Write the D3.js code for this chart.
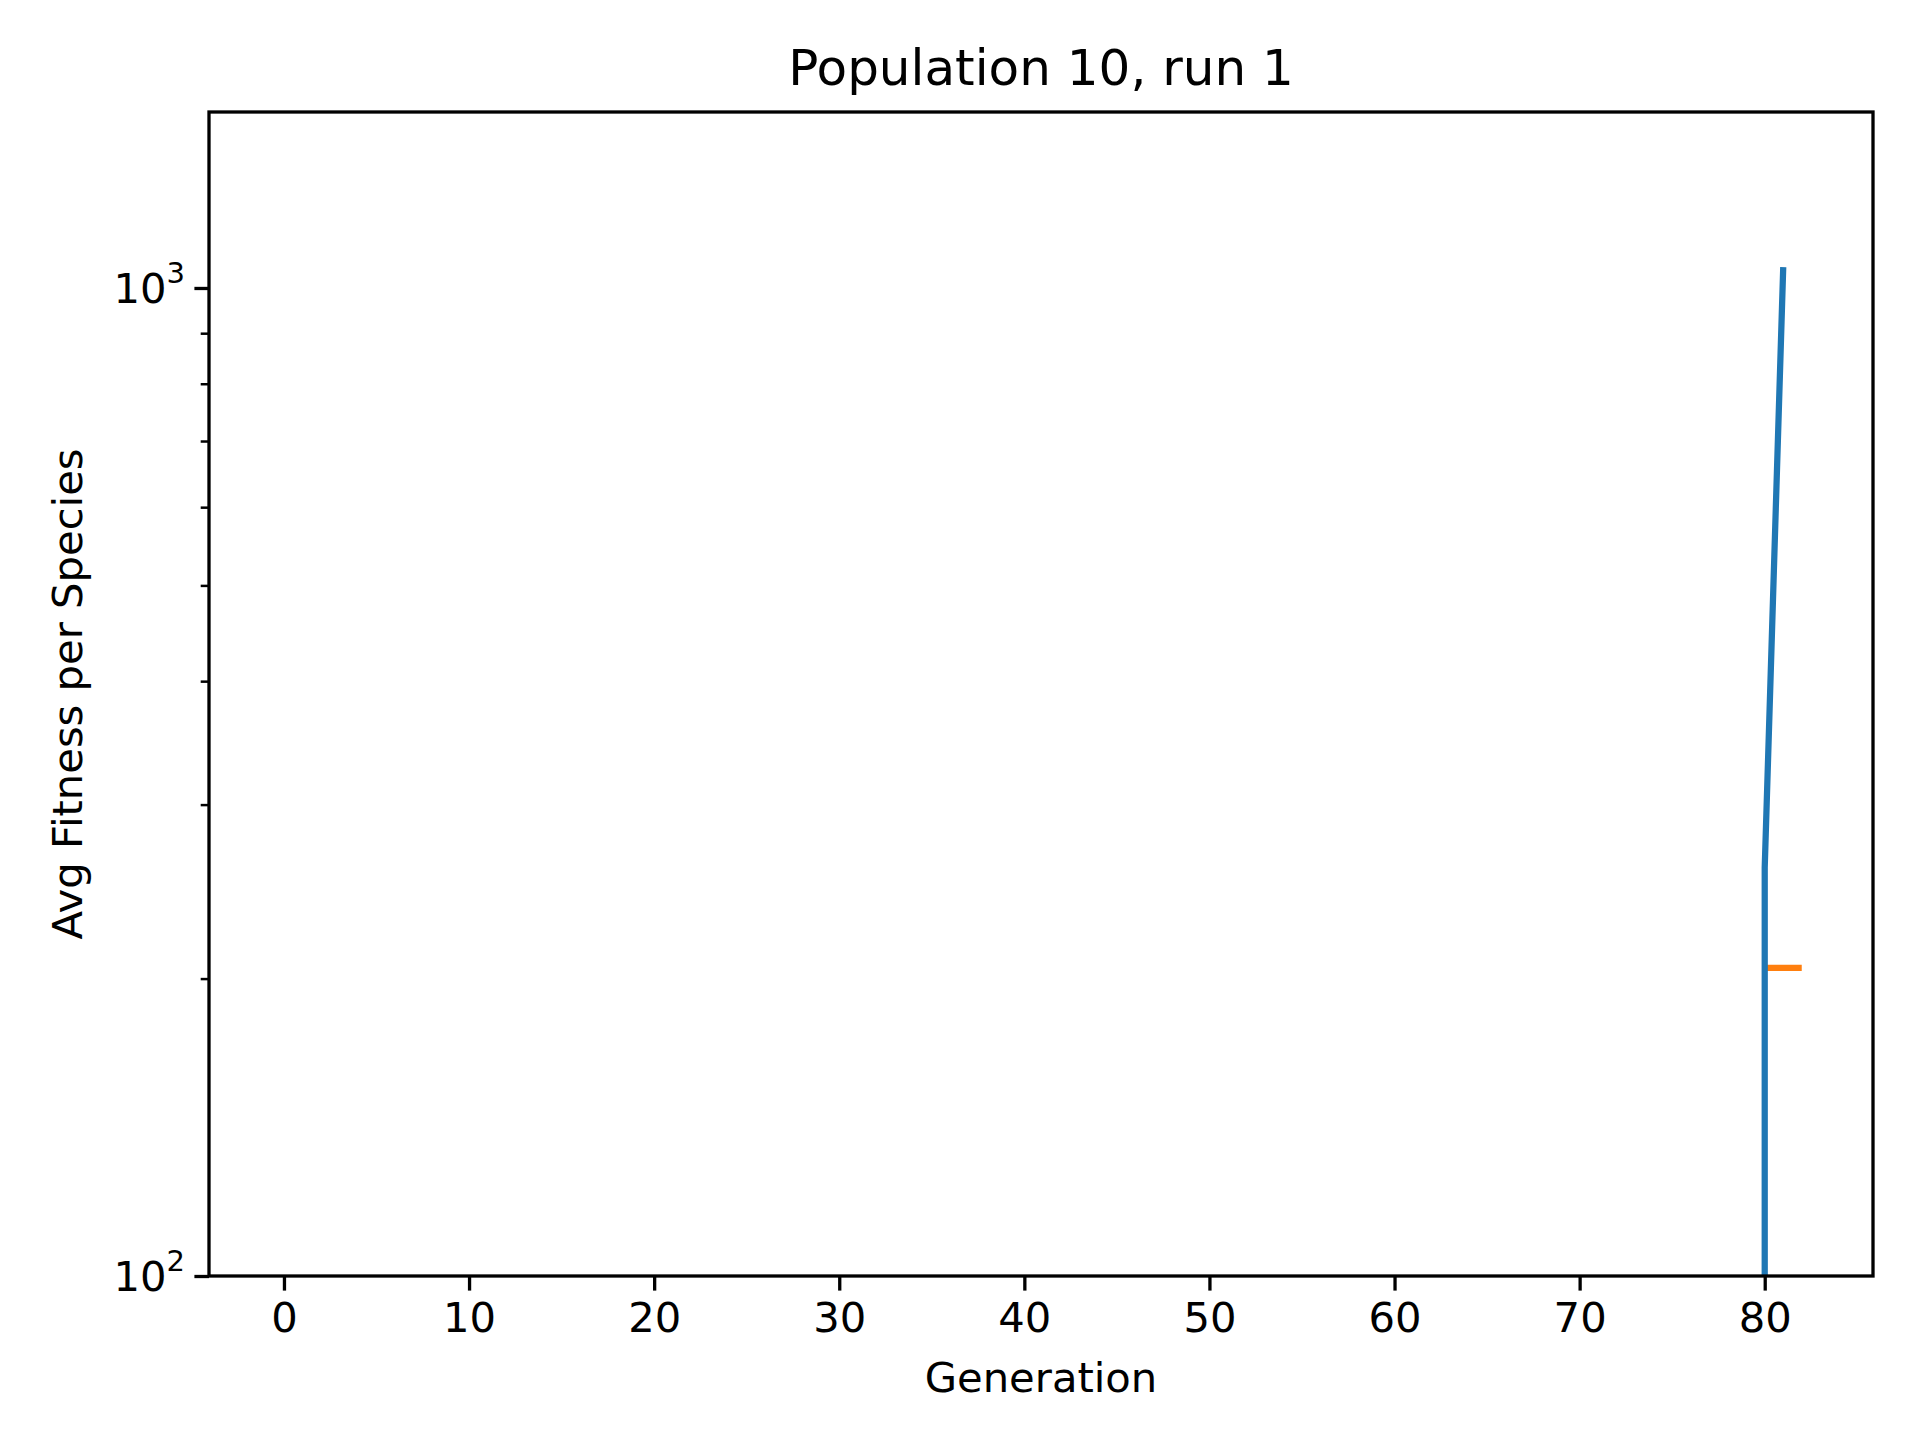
<!DOCTYPE html>
<html>
<head>
<meta charset="utf-8">
<script src="https://cdn.jsdelivr.net/npm/d3@7"></script>
<style>
  body { margin: 0; background: #fff; }
  text { font-family: "DejaVu Sans", sans-serif; fill: #000; }
</style>
</head>
<body>
<svg id="chart" width="1920" height="1440"></svg>
<script>
// Data
let xTicks = [0, 10, 20, 30, 40, 50, 60, 70, 80];
let blueGen = [80, 80, 81];
let blueFit = [1, 259, 1050];
let orangeGen = [80, 82];
let orangeFit = [205, 205];

let margin = { left: 209, right: 47, top: 112, bottom: 164 };
let W = 1920, H = 1440;

let svg = d3.select("#chart");

let x = d3.scaleLinear().domain([-4.05, 85.85]).range([margin.left, W - margin.right]);
let y = d3.scaleLog().domain([100, 1507]).range([H - margin.bottom, margin.top]);

// clip to plot area
svg.append("clipPath").attr("id", "clip").append("rect")
    .attr("x", margin.left).attr("y", margin.top)
    .attr("width", W - margin.left - margin.right)
    .attr("height", H - margin.top - margin.bottom);

let line = d3.line().x(d => x(d[0])).y(d => y(d[1]));

let plot = svg.append("g").attr("clip-path", "url(#clip)");

plot.append("path")
    .datum(orangeGen.map((g, i) => [g, orangeFit[i]]))
    .attr("d", line).attr("fill", "none")
    .attr("stroke", "#ff7f0e").attr("stroke-width", 6.25);

plot.append("path")
    .datum(blueGen.map((g, i) => [g, blueFit[i]]))
    .attr("d", line).attr("fill", "none")
    .attr("stroke", "#1f77b4").attr("stroke-width", 6.25)
    .attr("stroke-linejoin", "round");

// x axis
let xAxis = svg.append("g").attr("transform", `translate(0,${H - margin.bottom})`)
    .call(d3.axisBottom(x).tickValues(xTicks).tickSize(14.6).tickPadding(12));
xAxis.select(".domain").remove();
xAxis.selectAll("line").attr("stroke-width", 3.3);
xAxis.selectAll("text").attr("font-size", 41.7).style("font-family", "DejaVu Sans");

// y axis major + minor
let minor = [];
for (let v = 200; v <= 1000; v += 100) if (v !== 1000) minor.push(v);
let yMinor = svg.append("g").attr("transform", `translate(${margin.left},0)`)
    .call(d3.axisLeft(y).tickValues(minor).tickSize(8.3).tickFormat(""));
yMinor.select(".domain").remove();
yMinor.selectAll("line").attr("stroke-width", 2.5);

let yAxis = svg.append("g").attr("transform", `translate(${margin.left},0)`)
    .call(d3.axisLeft(y).tickValues([100, 1000]).tickSize(14.6).tickFormat(""));
yAxis.select(".domain").remove();
yAxis.selectAll("line").attr("stroke-width", 3.3);
yAxis.selectAll(".tick").append("text")
    .attr("x", -24).attr("dy", "0.35em").attr("text-anchor", "end")
    .attr("font-size", 41.7)
    .each(function(d) {
        let t = d3.select(this);
        t.append("tspan").text("10");
        t.append("tspan").attr("dy", "-0.7em").attr("font-size", 29).text(Math.round(Math.log10(d)));
    });

// spines
svg.append("rect")
    .attr("x", margin.left).attr("y", margin.top)
    .attr("width", W - margin.left - margin.right)
    .attr("height", H - margin.top - margin.bottom)
    .attr("fill", "none").attr("stroke", "#000").attr("stroke-width", 3.3);

// labels
svg.append("text").attr("x", (margin.left + W - margin.right) / 2).attr("y", 85)
    .attr("text-anchor", "middle").attr("font-size", 50).text("Population 10, run 1");
svg.append("text").attr("x", (margin.left + W - margin.right) / 2).attr("y", 1392)
    .attr("text-anchor", "middle").attr("font-size", 41.7).text("Generation");
svg.append("text")
    .attr("transform", `translate(82,${(margin.top + H - margin.bottom) / 2}) rotate(-90)`)
    .attr("text-anchor", "middle").attr("font-size", 41.7).text("Avg Fitness per Species");
</script>
</body>
</html>
